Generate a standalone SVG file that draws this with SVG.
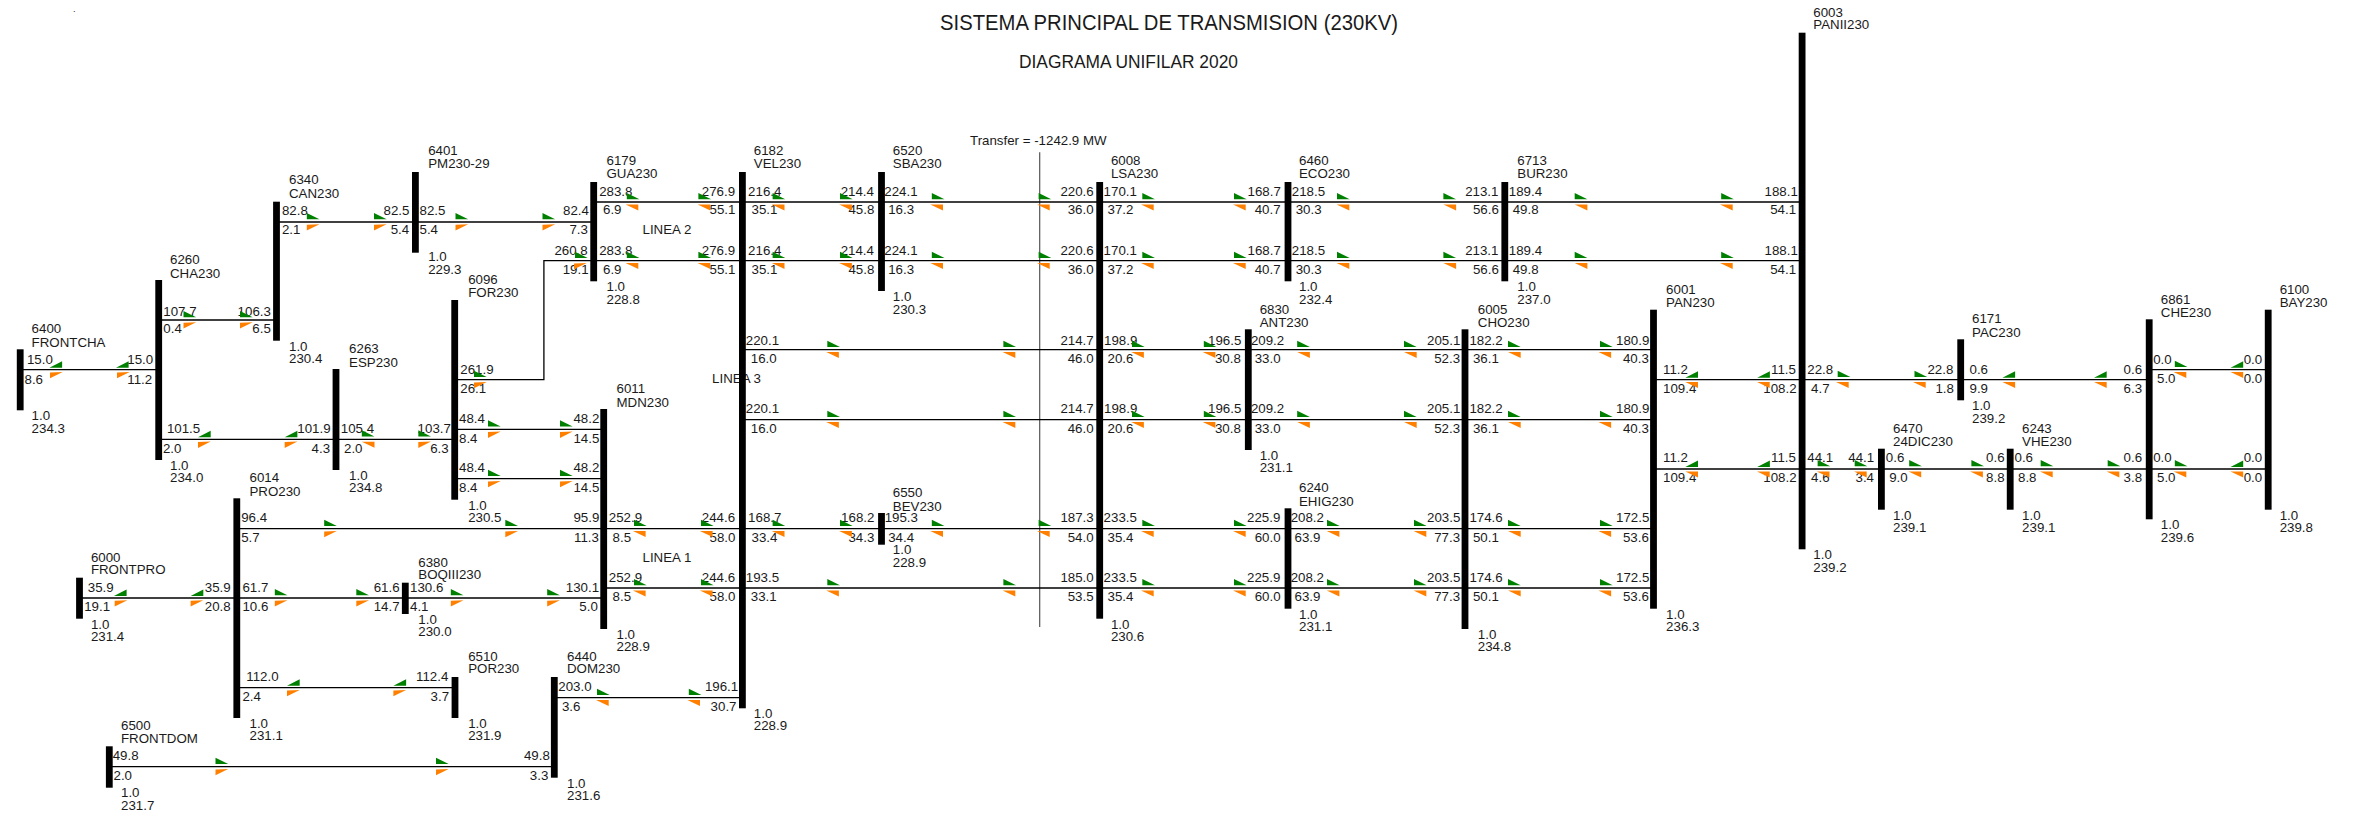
<svg xmlns="http://www.w3.org/2000/svg" width="2354" height="816" viewBox="0 0 2354 816">
<style>
text{font-family:"Liberation Sans",Arial,sans-serif;font-size:13.3px;fill:#1a1a1a}
.b{fill:#000}
.l{fill:none;stroke:#000;stroke-width:1.3}
.tr{fill:none;stroke:#555;stroke-width:1.2}
.g{fill:#008000}
.o{fill:#ff8000}
</style>
<defs>
<polygon id="gr" class="g" points="0,-9 0,-2.7 12.7,-2.7"/>
<polygon id="gl" class="g" points="12.7,-8.5 12.7,-2 0,-2"/>
<polygon id="ol" class="o" points="0,2.8 12.7,2.2 0,8.6"/>
<polygon id="or" class="o" points="0,2.4 12.7,2.4 12.7,8.4"/>
</defs>
<rect width="2354" height="816" fill="#fff"/>
<text x="73" y="12" style="font-size:9px">.</text>
<text x="940" y="30" style="font-size:22px" textLength="458" lengthAdjust="spacingAndGlyphs">SISTEMA PRINCIPAL DE TRANSMISION (230KV)</text>
<text x="1019" y="68" style="font-size:17.5px" textLength="219" lengthAdjust="spacingAndGlyphs">DIAGRAMA UNIFILAR 2020</text>
<text x="970" y="145">Transfer = -1242.9 MW</text>
<text x="642.5" y="233.7">LINEA 2</text>
<text x="712.1" y="382.7">LINEA 3</text>
<text x="642.5" y="561.7">LINEA 1</text>
<path class="tr" d="M1039.7 152.3V627"/>
<g id="connectors">
<g id="c1"><path class="l" d="M20 369.7H158"/><text x="26.9" y="364.3">15.0</text><text x="127.3" y="364.3">15.0</text><text x="24.5" y="383.7">8.6</text><text x="127.3" y="383.7">11.2</text><use href="#gl" x="49.4" y="369.7"/><use href="#gl" x="115.9" y="369.7"/><use href="#ol" x="50" y="369.7"/><use href="#ol" x="117" y="369.7"/></g>
<g id="c2"><path class="l" d="M158 320H276"/><text x="163.3" y="315.7">107.7</text><text x="237.6" y="315.7">106.3</text><text x="163.3" y="333.3">0.4</text><text x="252.3" y="333.3">6.5</text><use href="#gr" x="183.5" y="320"/><use href="#gr" x="240" y="320"/><use href="#ol" x="183.5" y="320"/><use href="#ol" x="240" y="320"/></g>
<g id="c3"><path class="l" d="M276 222H415"/><text x="281.9" y="215">82.8</text><text x="383.5" y="215">82.5</text><text x="281.9" y="234.3">2.1</text><text x="390.7" y="234.3">5.4</text><use href="#gr" x="306.8" y="222"/><use href="#gr" x="374" y="222"/><use href="#ol" x="306.8" y="222"/><use href="#ol" x="374" y="222"/></g>
<g id="c4"><path class="l" d="M415 222H594"/><text x="419.5" y="215">82.5</text><text x="563" y="215">82.4</text><text x="419.5" y="234.3">5.4</text><text x="569.4" y="234.3">7.3</text><use href="#gr" x="455.5" y="222"/><use href="#gr" x="542.5" y="222"/><use href="#ol" x="455.5" y="222"/><use href="#ol" x="542.5" y="222"/></g>
<g id="c5"><path class="l" d="M158 439.3H336"/><text x="166.9" y="433.3">101.5</text><text x="297.3" y="433.3">101.9</text><text x="162.9" y="453.3">2.0</text><text x="311.6" y="453.3">4.3</text><use href="#gl" x="198" y="439.3"/><use href="#gl" x="284.7" y="439.3"/><use href="#ol" x="198" y="439.3"/><use href="#ol" x="284.7" y="439.3"/></g>
<g id="c6"><path class="l" d="M336 439.3H455"/><text x="340.8" y="433.3">105.4</text><text x="417.6" y="433.3">103.7</text><text x="344" y="453.3">2.0</text><text x="430.2" y="453.3">6.3</text><use href="#gr" x="361.8" y="439.3"/><use href="#gr" x="418.3" y="439.3"/><use href="#or" x="361.8" y="439.3"/><use href="#ol" x="418.3" y="439.3"/></g>
<g id="c7"><path class="l" d="M455 379.7H543.9V260.7H594"/><text x="460.3" y="374.3">261.9</text><text x="460.3" y="393.3">26.1</text><text x="554.4" y="255">260.8</text><text x="562.7" y="274.3">19.1</text><use href="#gr" x="474" y="379.7"/><use href="#gr" x="575" y="260.7"/><use href="#ol" x="474" y="379.7"/><use href="#ol" x="574" y="260.7"/></g>
<g id="c8"><path class="l" d="M455 429.3H604"/><text x="459" y="423.3">48.4</text><text x="573.4" y="423.3">48.2</text><text x="459" y="443.3">8.4</text><text x="573.4" y="443.3">14.5</text><use href="#gr" x="488" y="429.3"/><use href="#gr" x="560" y="429.3"/><use href="#ol" x="488" y="429.3"/><use href="#ol" x="560" y="429.3"/></g>
<g id="c9"><path class="l" d="M455 478.7H604"/><text x="459" y="472">48.4</text><text x="573.4" y="472">48.2</text><text x="459" y="491.7">8.4</text><text x="573.4" y="491.7">14.5</text><use href="#gr" x="488" y="478.7"/><use href="#gr" x="560" y="478.7"/><use href="#ol" x="488" y="478.7"/><use href="#ol" x="560" y="478.7"/></g>
<g id="c10"><path class="l" d="M237 528.7H604"/><text x="241.2" y="522">96.4</text><text x="573.4" y="522">95.9</text><text x="241.2" y="541.7">5.7</text><text x="574" y="541.7">11.3</text><use href="#gr" x="324.2" y="528.7"/><use href="#gr" x="505.3" y="528.7"/><use href="#ol" x="324.2" y="528.7"/><use href="#ol" x="505.3" y="528.7"/></g>
<g id="c11"><path class="l" d="M79.5 598H237"/><text x="87.8" y="592">35.9</text><text x="204.8" y="592">35.9</text><text x="84.2" y="611">19.1</text><text x="204.8" y="611">20.8</text><use href="#gl" x="113.9" y="598"/><use href="#gl" x="190.6" y="598"/><use href="#ol" x="114.7" y="598"/><use href="#ol" x="190.6" y="598"/></g>
<g id="c12"><path class="l" d="M237 598H405"/><text x="242.4" y="592">61.7</text><text x="373.7" y="592">61.6</text><text x="242.4" y="611">10.6</text><text x="373.7" y="611">14.7</text><use href="#gr" x="274.8" y="598"/><use href="#gr" x="356.3" y="598"/><use href="#ol" x="274.8" y="598"/><use href="#ol" x="356.3" y="598"/></g>
<g id="c13"><path class="l" d="M405 598H604"/><text x="410" y="592">130.6</text><text x="565.8" y="592">130.1</text><text x="410" y="611">4.1</text><text x="579.3" y="611">5.0</text><use href="#gr" x="450.8" y="598"/><use href="#gr" x="547.2" y="598"/><use href="#ol" x="450.8" y="598"/><use href="#ol" x="547.2" y="598"/></g>
<g id="c14"><path class="l" d="M237 687.7H455"/><text x="246.3" y="681.3">112.0</text><text x="416" y="681.3">112.4</text><text x="242.4" y="701">2.4</text><text x="430.6" y="701">3.7</text><use href="#gl" x="287" y="687.7"/><use href="#gl" x="393.4" y="687.7"/><use href="#ol" x="287" y="687.7"/><use href="#ol" x="393.4" y="687.7"/></g>
<g id="c15"><path class="l" d="M554 697.7H742"/><text x="558.3" y="691.3">203.0</text><text x="704.9" y="691.3">196.1</text><text x="561.9" y="711">3.6</text><text x="710.6" y="711">30.7</text><use href="#gr" x="597" y="697.7"/><use href="#gr" x="688.8" y="697.7"/><use href="#or" x="596" y="697.7"/><use href="#or" x="687.3" y="697.7"/></g>
<g id="c16"><path class="l" d="M109 766.7H554"/><text x="112.7" y="760">49.8</text><text x="523.9" y="760">49.8</text><text x="113.5" y="780">2.0</text><text x="529.8" y="780">3.3</text><use href="#gr" x="215.5" y="766.7"/><use href="#gr" x="436" y="766.7"/><use href="#ol" x="215.5" y="766.7"/><use href="#ol" x="436" y="766.7"/></g>

<g id="c17"><path class="l" d="M594 202H742"/><text x="599.2" y="196">283.8</text><text x="701.8" y="196">276.9</text><text x="603" y="214.3">6.9</text><text x="709.5" y="214.3">55.1</text><use href="#gr" x="626.8" y="202"/><use href="#gr" x="698.4" y="202"/><use href="#or" x="625.6" y="202"/><use href="#or" x="697.6" y="202"/></g>
<g id="c18"><path class="l" d="M594 260.7H742"/><text x="599.2" y="255">283.8</text><text x="701.8" y="255">276.9</text><text x="603" y="274.3">6.9</text><text x="709.5" y="274.3">55.1</text><use href="#gr" x="626.8" y="260.7"/><use href="#gr" x="698.4" y="260.7"/><use href="#or" x="625.6" y="260.7"/><use href="#or" x="697.6" y="260.7"/></g>
<g id="c19"><path class="l" d="M742 202H881.5"/><text x="748.1" y="196">216.4</text><text x="840.7" y="196">214.4</text><text x="751.5" y="214.3">35.1</text><text x="848.4" y="214.3">45.8</text><use href="#gr" x="772.6" y="202"/><use href="#gr" x="840" y="202"/><use href="#or" x="771.8" y="202"/><use href="#or" x="839.2" y="202"/></g>
<g id="c20"><path class="l" d="M742 260.7H881.5"/><text x="748.1" y="255">216.4</text><text x="840.7" y="255">214.4</text><text x="751.5" y="274.3">35.1</text><text x="848.4" y="274.3">45.8</text><use href="#gr" x="772.6" y="260.7"/><use href="#gr" x="840" y="260.7"/><use href="#or" x="771.8" y="260.7"/><use href="#or" x="839.2" y="260.7"/></g>
<g id="c21"><path class="l" d="M881.5 202H1100"/><text x="884.3" y="196">224.1</text><text x="1060.4" y="196">220.6</text><text x="888.2" y="214.3">16.3</text><text x="1067.7" y="214.3">36.0</text><use href="#gr" x="931.8" y="202"/><use href="#gr" x="1038.6" y="202"/><use href="#or" x="930.3" y="202"/><use href="#or" x="1037" y="202"/></g>
<g id="c22"><path class="l" d="M881.5 260.7H1100"/><text x="884.3" y="255">224.1</text><text x="1060.4" y="255">220.6</text><text x="888.2" y="274.3">16.3</text><text x="1067.7" y="274.3">36.0</text><use href="#gr" x="931.8" y="260.7"/><use href="#gr" x="1038.6" y="260.7"/><use href="#or" x="930.3" y="260.7"/><use href="#or" x="1037" y="260.7"/></g>
<g id="c23"><path class="l" d="M1100 202H1288"/><text x="1103.6" y="196">170.1</text><text x="1247.5" y="196">168.7</text><text x="1107.5" y="214.3">37.2</text><text x="1254.7" y="214.3">40.7</text><use href="#gr" x="1142.3" y="202"/><use href="#gr" x="1234" y="202"/><use href="#or" x="1141" y="202"/><use href="#or" x="1233" y="202"/></g>
<g id="c24"><path class="l" d="M1100 260.7H1288"/><text x="1103.6" y="255">170.1</text><text x="1247.5" y="255">168.7</text><text x="1107.5" y="274.3">37.2</text><text x="1254.7" y="274.3">40.7</text><use href="#gr" x="1142.3" y="260.7"/><use href="#gr" x="1234" y="260.7"/><use href="#or" x="1141" y="260.7"/><use href="#or" x="1233" y="260.7"/></g>
<g id="c25"><path class="l" d="M1288 202H1505"/><text x="1291.8" y="196">218.5</text><text x="1465.2" y="196">213.1</text><text x="1295.7" y="214.3">30.3</text><text x="1472.9" y="214.3">56.6</text><use href="#gr" x="1337" y="202"/><use href="#gr" x="1443.4" y="202"/><use href="#or" x="1336.6" y="202"/><use href="#or" x="1443.4" y="202"/></g>
<g id="c26"><path class="l" d="M1288 260.7H1505"/><text x="1291.8" y="255">218.5</text><text x="1465.2" y="255">213.1</text><text x="1295.7" y="274.3">30.3</text><text x="1472.9" y="274.3">56.6</text><use href="#gr" x="1337" y="260.7"/><use href="#gr" x="1443.4" y="260.7"/><use href="#or" x="1336.6" y="260.7"/><use href="#or" x="1443.4" y="260.7"/></g>
<g id="c27"><path class="l" d="M1505 202H1802"/><text x="1508.8" y="196">189.4</text><text x="1764.5" y="196">188.1</text><text x="1512.7" y="214.3">49.8</text><text x="1770.2" y="214.3">54.1</text><use href="#gr" x="1574.7" y="202"/><use href="#gr" x="1721.2" y="202"/><use href="#or" x="1574.7" y="202"/><use href="#or" x="1720" y="202"/></g>
<g id="c28"><path class="l" d="M1505 260.7H1802"/><text x="1508.8" y="255">189.4</text><text x="1764.5" y="255">188.1</text><text x="1512.7" y="274.3">49.8</text><text x="1770.2" y="274.3">54.1</text><use href="#gr" x="1574.7" y="260.7"/><use href="#gr" x="1721.2" y="260.7"/><use href="#or" x="1574.7" y="260.7"/><use href="#or" x="1720" y="260.7"/></g>

<g id="c29"><path class="l" d="M742 349.7H1100"/><text x="745.8" y="345.3">220.1</text><text x="1060.4" y="345.3">214.7</text><text x="750.8" y="363">16.0</text><text x="1067.7" y="363">46.0</text><use href="#gr" x="827.3" y="349.7"/><use href="#gr" x="1003.4" y="349.7"/><use href="#or" x="826.2" y="349.7"/><use href="#or" x="1002.6" y="349.7"/></g>
<g id="c30"><path class="l" d="M742 419.7H1100"/><text x="745.8" y="413">220.1</text><text x="1060.4" y="413">214.7</text><text x="750.8" y="433">16.0</text><text x="1067.7" y="433">46.0</text><use href="#gr" x="827.3" y="419.7"/><use href="#gr" x="1003.4" y="419.7"/><use href="#or" x="826.2" y="419.7"/><use href="#or" x="1002.6" y="419.7"/></g>
<g id="c31"><path class="l" d="M1100 349.7H1248"/><text x="1104" y="345.3">198.9</text><text x="1208" y="345.3">196.5</text><text x="1107.5" y="363">20.6</text><text x="1214.9" y="363">30.8</text><use href="#gr" x="1132" y="349.7"/><use href="#gr" x="1203.8" y="349.7"/><use href="#or" x="1131.2" y="349.7"/><use href="#or" x="1202.7" y="349.7"/></g>
<g id="c32"><path class="l" d="M1100 419.7H1248"/><text x="1104" y="413">198.9</text><text x="1208" y="413">196.5</text><text x="1107.5" y="433">20.6</text><text x="1214.9" y="433">30.8</text><use href="#gr" x="1132" y="419.7"/><use href="#gr" x="1203.8" y="419.7"/><use href="#or" x="1131.2" y="419.7"/><use href="#or" x="1202.7" y="419.7"/></g>
<g id="c33"><path class="l" d="M1248 349.7H1465"/><text x="1250.9" y="345.3">209.2</text><text x="1427" y="345.3">205.1</text><text x="1254.7" y="363">33.0</text><text x="1434.2" y="363">52.3</text><use href="#gr" x="1297.2" y="349.7"/><use href="#gr" x="1404" y="349.7"/><use href="#or" x="1297.2" y="349.7"/><use href="#or" x="1404" y="349.7"/></g>
<g id="c34"><path class="l" d="M1248 419.7H1465"/><text x="1250.9" y="413">209.2</text><text x="1427" y="413">205.1</text><text x="1254.7" y="433">33.0</text><text x="1434.2" y="433">52.3</text><use href="#gr" x="1297.2" y="419.7"/><use href="#gr" x="1404" y="419.7"/><use href="#or" x="1297.2" y="419.7"/><use href="#or" x="1404" y="419.7"/></g>
<g id="c35"><path class="l" d="M1465 349.7H1653.5"/><text x="1469.4" y="345.3">182.2</text><text x="1616" y="345.3">180.9</text><text x="1472.9" y="363">36.1</text><text x="1622.9" y="363">40.3</text><use href="#gr" x="1508" y="349.7"/><use href="#gr" x="1600" y="349.7"/><use href="#or" x="1508" y="349.7"/><use href="#or" x="1598.4" y="349.7"/></g>
<g id="c36"><path class="l" d="M1465 419.7H1653.5"/><text x="1469.4" y="413">182.2</text><text x="1616" y="413">180.9</text><text x="1472.9" y="433">36.1</text><text x="1622.9" y="433">40.3</text><use href="#gr" x="1508" y="419.7"/><use href="#gr" x="1600" y="419.7"/><use href="#or" x="1508" y="419.7"/><use href="#or" x="1598.4" y="419.7"/></g>

<g id="c37"><path class="l" d="M604 528.7H742"/><text x="608.8" y="522">252.9</text><text x="701.8" y="522">244.6</text><text x="612.6" y="541.7">8.5</text><text x="709.5" y="541.7">58.0</text><use href="#gr" x="634" y="528.7"/><use href="#gr" x="701" y="528.7"/><use href="#or" x="632.9" y="528.7"/><use href="#or" x="699.9" y="528.7"/></g>
<g id="c38"><path class="l" d="M604 588H742"/><text x="608.8" y="582">252.9</text><text x="701.8" y="582">244.6</text><text x="612.6" y="601">8.5</text><text x="709.5" y="601">58.0</text><use href="#gr" x="634" y="588"/><use href="#gr" x="701" y="588"/><use href="#or" x="632.9" y="588"/><use href="#or" x="699.9" y="588"/></g>
<g id="c39"><path class="l" d="M742 528.7H881.5"/><text x="748.1" y="522">168.7</text><text x="841.1" y="522">168.2</text><text x="751.5" y="541.7">33.4</text><text x="848.4" y="541.7">34.3</text><use href="#gr" x="772.6" y="528.7"/><use href="#gr" x="840" y="528.7"/><use href="#or" x="771.8" y="528.7"/><use href="#or" x="839.2" y="528.7"/></g>
<g id="c40"><path class="l" d="M881.5 528.7H1100"/><text x="884.7" y="522">195.3</text><text x="1060.4" y="522">187.3</text><text x="888.2" y="541.7">34.4</text><text x="1067.7" y="541.7">54.0</text><use href="#gr" x="931.8" y="528.7"/><use href="#gr" x="1038.6" y="528.7"/><use href="#or" x="930.3" y="528.7"/><use href="#or" x="1037" y="528.7"/></g>
<g id="c41"><path class="l" d="M742 588H1100"/><text x="745.8" y="582">193.5</text><text x="1060.4" y="582">185.0</text><text x="750.8" y="601">33.1</text><text x="1067.7" y="601">53.5</text><use href="#gr" x="827.3" y="588"/><use href="#gr" x="1003.4" y="588"/><use href="#or" x="826.2" y="588"/><use href="#or" x="1002.6" y="588"/></g>
<g id="c42"><path class="l" d="M1100 528.7H1288"/><text x="1103.6" y="522">233.5</text><text x="1247" y="522">225.9</text><text x="1107.5" y="541.7">35.4</text><text x="1254.7" y="541.7">60.0</text><use href="#gr" x="1142.3" y="528.7"/><use href="#gr" x="1234" y="528.7"/><use href="#or" x="1141" y="528.7"/><use href="#or" x="1233" y="528.7"/></g>
<g id="c43"><path class="l" d="M1100 588H1288"/><text x="1103.6" y="582">233.5</text><text x="1247" y="582">225.9</text><text x="1107.5" y="601">35.4</text><text x="1254.7" y="601">60.0</text><use href="#gr" x="1142.3" y="588"/><use href="#gr" x="1234" y="588"/><use href="#or" x="1141" y="588"/><use href="#or" x="1233" y="588"/></g>
<g id="c44"><path class="l" d="M1288 528.7H1465"/><text x="1290.7" y="522">208.2</text><text x="1427" y="522">203.5</text><text x="1294.5" y="541.7">63.9</text><text x="1434.2" y="541.7">77.3</text><use href="#gr" x="1327" y="528.7"/><use href="#gr" x="1414" y="528.7"/><use href="#or" x="1326.7" y="528.7"/><use href="#or" x="1413.6" y="528.7"/></g>
<g id="c45"><path class="l" d="M1288 588H1465"/><text x="1290.7" y="582">208.2</text><text x="1427" y="582">203.5</text><text x="1294.5" y="601">63.9</text><text x="1434.2" y="601">77.3</text><use href="#gr" x="1327" y="588"/><use href="#gr" x="1414" y="588"/><use href="#or" x="1326.7" y="588"/><use href="#or" x="1413.6" y="588"/></g>
<g id="c46"><path class="l" d="M1465 528.7H1653.5"/><text x="1469.4" y="522">174.6</text><text x="1616" y="522">172.5</text><text x="1472.9" y="541.7">50.1</text><text x="1622.9" y="541.7">53.6</text><use href="#gr" x="1508" y="528.7"/><use href="#gr" x="1600" y="528.7"/><use href="#or" x="1508" y="528.7"/><use href="#or" x="1598.4" y="528.7"/></g>
<g id="c47"><path class="l" d="M1465 588H1653.5"/><text x="1469.4" y="582">174.6</text><text x="1616" y="582">172.5</text><text x="1472.9" y="601">50.1</text><text x="1622.9" y="601">53.6</text><use href="#gr" x="1508" y="588"/><use href="#gr" x="1600" y="588"/><use href="#or" x="1508" y="588"/><use href="#or" x="1598.4" y="588"/></g>

<g id="c48"><path class="l" d="M1653.5 379.7H1802"/><text x="1663" y="374">11.2</text><text x="1771" y="374">11.5</text><text x="1663" y="393.3">109.4</text><text x="1763.3" y="393.3">108.2</text><use href="#gl" x="1685.3" y="379.7"/><use href="#gl" x="1757.2" y="379.7"/><use href="#or" x="1685.3" y="379.7"/><use href="#or" x="1757" y="379.7"/></g>
<g id="c49"><path class="l" d="M1653.5 469H1802"/><text x="1663" y="462.3">11.2</text><text x="1771" y="462.3">11.5</text><text x="1663" y="482">109.4</text><text x="1763.3" y="482">108.2</text><use href="#gl" x="1685.3" y="469"/><use href="#gl" x="1757.2" y="469"/><use href="#or" x="1685.3" y="469"/><use href="#or" x="1757" y="469"/></g>
<g id="c50"><path class="l" d="M1802 379.7H1961"/><text x="1807.3" y="374">22.8</text><text x="1927.4" y="374">22.8</text><text x="1811.1" y="393">4.7</text><text x="1935.4" y="393">1.8</text><use href="#gr" x="1837.7" y="379.7"/><use href="#gr" x="1914.5" y="379.7"/><use href="#or" x="1836" y="379.7"/><use href="#or" x="1913" y="379.7"/></g>
<g id="c51"><path class="l" d="M1961 379.7H2149"/><text x="1969.5" y="374">0.6</text><text x="2123.6" y="374">0.6</text><text x="1969.5" y="393">9.9</text><text x="2123.6" y="393">6.3</text><use href="#gl" x="2002.4" y="379.7"/><use href="#gl" x="2094" y="379.7"/><use href="#or" x="2002.4" y="379.7"/><use href="#or" x="2094" y="379.7"/></g>
<g id="c52"><path class="l" d="M2149 369.7H2268"/><text x="2153.2" y="364">0.0</text><text x="2243.7" y="364">0.0</text><text x="2157" y="383">5.0</text><text x="2243.7" y="383">0.0</text><use href="#gr" x="2174.8" y="369.7"/><use href="#gl" x="2230.5" y="369.7"/><use href="#or" x="2173.6" y="369.7"/><use href="#or" x="2230.5" y="369.7"/></g>
<g id="c53"><path class="l" d="M1802 469H1881"/><text x="1807.3" y="462">44.1</text><text x="1848.3" y="462">44.1</text><text x="1811.1" y="482">4.6</text><text x="1855.5" y="482">3.4</text><use href="#gr" x="1817.6" y="469"/><use href="#gr" x="1854.7" y="469"/><use href="#or" x="1816.8" y="469"/><use href="#or" x="1854" y="469"/></g>
<g id="c54"><path class="l" d="M1881 469H2010"/><text x="1885.8" y="462">0.6</text><text x="1986.1" y="462">0.6</text><text x="1889.2" y="482">9.0</text><text x="1986.1" y="482">8.8</text><use href="#gr" x="1909.2" y="469"/><use href="#gr" x="1971.4" y="469"/><use href="#or" x="1908.5" y="469"/><use href="#or" x="1970.2" y="469"/></g>
<g id="c55"><path class="l" d="M2010 469H2149"/><text x="2014.5" y="462">0.6</text><text x="2123.6" y="462">0.6</text><text x="2018" y="482">8.8</text><text x="2123.6" y="482">3.8</text><use href="#gr" x="2040.7" y="469"/><use href="#gr" x="2107.7" y="469"/><use href="#or" x="2040" y="469"/><use href="#or" x="2106.6" y="469"/></g>
<g id="c56"><path class="l" d="M2149 469H2268"/><text x="2153.2" y="462">0.0</text><text x="2243.7" y="462">0.0</text><text x="2157" y="482">5.0</text><text x="2243.7" y="482">0.0</text><use href="#gr" x="2174.8" y="469"/><use href="#gl" x="2230.5" y="469"/><use href="#or" x="2173.6" y="469"/><use href="#or" x="2230.5" y="469"/></g>
</g>
<g id="n6400"><rect class="b" x="16.8" y="349.3" width="6.8" height="61"/><text x="31.6" y="333">6400</text><text x="31.6" y="346.7">FRONTCHA</text><text x="31.6" y="420">1.0</text><text x="31.6" y="433">234.3</text></g>
<g id="n6260"><rect class="b" x="155.3" y="280" width="6.8" height="180"/><text x="170" y="264">6260</text><text x="170" y="278">CHA230</text><text x="170" y="470">1.0</text><text x="170" y="481.7">234.0</text></g>
<g id="n6340"><rect class="b" x="273.1" y="201.7" width="6.8" height="139"/><text x="289" y="184">6340</text><text x="289" y="198">CAN230</text><text x="289" y="351">1.0</text><text x="289" y="363">230.4</text></g>
<g id="n6401"><rect class="b" x="412" y="172" width="6.8" height="80.7"/><text x="428.2" y="155">6401</text><text x="428.2" y="168">PM230-29</text><text x="428.2" y="261">1.0</text><text x="428.2" y="274">229.3</text></g>
<g id="n6179"><rect class="b" x="590.3" y="182" width="6.8" height="99.3"/><text x="606.5" y="165">6179</text><text x="606.5" y="178">GUA230</text><text x="606.5" y="291">1.0</text><text x="606.5" y="304">228.8</text></g>
<g id="n6096"><rect class="b" x="451.3" y="300" width="6.8" height="199.7"/><text x="468.2" y="284">6096</text><text x="468.2" y="296.7">FOR230</text><text x="468.2" y="510">1.0</text><text x="468.2" y="521.7">230.5</text></g>
<g id="n6263"><rect class="b" x="332.6" y="369" width="6.8" height="101"/><text x="349.1" y="353">6263</text><text x="349.1" y="367">ESP230</text><text x="349.1" y="480">1.0</text><text x="349.1" y="491.7">234.8</text></g>
<g id="n6011"><rect class="b" x="600.3" y="409" width="6.8" height="220"/><text x="616.5" y="393">6011</text><text x="616.5" y="407">MDN230</text><text x="616.5" y="639">1.0</text><text x="616.5" y="651">228.9</text></g>
<g id="n6014"><rect class="b" x="233.4" y="498.3" width="6.8" height="219.7"/><text x="249.5" y="482">6014</text><text x="249.5" y="496">PRO230</text><text x="249.5" y="728">1.0</text><text x="249.5" y="739.7">231.1</text></g>
<g id="n6000"><rect class="b" x="76.1" y="577.7" width="6.8" height="41"/><text x="90.9" y="562">6000</text><text x="90.9" y="574">FRONTPRO</text><text x="90.9" y="629">1.0</text><text x="90.9" y="641">231.4</text></g>
<g id="n6380"><rect class="b" x="401.9" y="582.7" width="6.8" height="31.3"/><text x="418.3" y="567">6380</text><text x="418.3" y="579">BOQIII230</text><text x="418.3" y="624">1.0</text><text x="418.3" y="636">230.0</text></g>
<g id="n6510"><rect class="b" x="451.6" y="677" width="6.8" height="41"/><text x="468.2" y="661">6510</text><text x="468.2" y="673">POR230</text><text x="468.2" y="728">1.0</text><text x="468.2" y="739.7">231.9</text></g>
<g id="n6440"><rect class="b" x="550.9" y="677" width="6.8" height="100.7"/><text x="567" y="661">6440</text><text x="567" y="673">DOM230</text><text x="567" y="788">1.0</text><text x="567" y="800">231.6</text></g>
<g id="n6500"><rect class="b" x="105.9" y="746.3" width="6.8" height="41.4"/><text x="121" y="730">6500</text><text x="121" y="743">FRONTDOM</text><text x="121" y="797">1.0</text><text x="121" y="810">231.7</text></g>
<g id="n6182"><rect class="b" x="739" y="172" width="6.8" height="536.3"/><text x="753.8" y="155">6182</text><text x="753.8" y="168">VEL230</text><text x="753.8" y="718">1.0</text><text x="753.8" y="730">228.9</text></g>
<g id="n6520"><rect class="b" x="878.1" y="172" width="6.8" height="119"/><text x="892.8" y="155">6520</text><text x="892.8" y="168">SBA230</text><text x="892.8" y="301">1.0</text><text x="892.8" y="314">230.3</text></g>
<g id="n6008"><rect class="b" x="1096.3" y="182" width="6.8" height="436.7"/><text x="1110.9" y="165">6008</text><text x="1110.9" y="178">LSA230</text><text x="1110.9" y="629">1.0</text><text x="1110.9" y="641">230.6</text></g>
<g id="n6550"><rect class="b" x="878.1" y="513" width="6.8" height="31.7"/><text x="892.8" y="497">6550</text><text x="892.8" y="511">BEV230</text><text x="892.8" y="554">1.0</text><text x="892.8" y="567">228.9</text></g>
<g id="n6460"><rect class="b" x="1284.6" y="182" width="6.8" height="99.3"/><text x="1299" y="165">6460</text><text x="1299" y="178">ECO230</text><text x="1299" y="291">1.0</text><text x="1299" y="304">232.4</text></g>
<g id="n6713"><rect class="b" x="1501.4" y="182" width="6.8" height="99.3"/><text x="1517.3" y="165">6713</text><text x="1517.3" y="178">BUR230</text><text x="1517.3" y="291">1.0</text><text x="1517.3" y="304">237.0</text></g>
<g id="n6830"><rect class="b" x="1244.9" y="329.3" width="6.8" height="120.7"/><text x="1259.7" y="314">6830</text><text x="1259.7" y="327">ANT230</text><text x="1259.7" y="460">1.0</text><text x="1259.7" y="472">231.1</text></g>
<g id="n6005"><rect class="b" x="1461.6" y="329.3" width="6.8" height="299.7"/><text x="1477.8" y="314">6005</text><text x="1477.8" y="327">CHO230</text><text x="1477.8" y="639">1.0</text><text x="1477.8" y="651">234.8</text></g>
<g id="n6001"><rect class="b" x="1650.1" y="309.7" width="6.8" height="299"/><text x="1666.1" y="294">6001</text><text x="1666.1" y="307">PAN230</text><text x="1666.1" y="619">1.0</text><text x="1666.1" y="631">236.3</text></g>
<g id="n6240"><rect class="b" x="1284.6" y="508.3" width="6.8" height="100.4"/><text x="1299" y="492">6240</text><text x="1299" y="506">EHIG230</text><text x="1299" y="619">1.0</text><text x="1299" y="631">231.1</text></g>
<g id="n6003"><rect class="b" x="1798.7" y="32.7" width="6.8" height="516.6"/><text x="1813.3" y="16.7">6003</text><text x="1813.3" y="29">PANII230</text><text x="1813.3" y="559">1.0</text><text x="1813.3" y="572">239.2</text></g>
<g id="n6171"><rect class="b" x="1957.3" y="339.3" width="6.8" height="61"/><text x="1972" y="323">6171</text><text x="1972" y="337">PAC230</text><text x="1972" y="410">1.0</text><text x="1972" y="423">239.2</text></g>
<g id="n6470"><rect class="b" x="1878" y="448.7" width="6.8" height="61"/><text x="1893" y="433">6470</text><text x="1893" y="446">24DIC230</text><text x="1893" y="520">1.0</text><text x="1893" y="532">239.1</text></g>
<g id="n6243"><rect class="b" x="2006.8" y="448.7" width="6.8" height="61"/><text x="2022.1" y="433">6243</text><text x="2022.1" y="446">VHE230</text><text x="2022.1" y="520">1.0</text><text x="2022.1" y="532">239.1</text></g>
<g id="n6861"><rect class="b" x="2145.8" y="319.3" width="6.8" height="200"/><text x="2160.8" y="304">6861</text><text x="2160.8" y="317">CHE230</text><text x="2160.8" y="529">1.0</text><text x="2160.8" y="542">239.6</text></g>
<g id="n6100"><rect class="b" x="2264.8" y="309.7" width="6.8" height="200"/><text x="2279.7" y="294">6100</text><text x="2279.7" y="307">BAY230</text><text x="2279.7" y="520">1.0</text><text x="2279.7" y="532">239.8</text></g>
</svg>
